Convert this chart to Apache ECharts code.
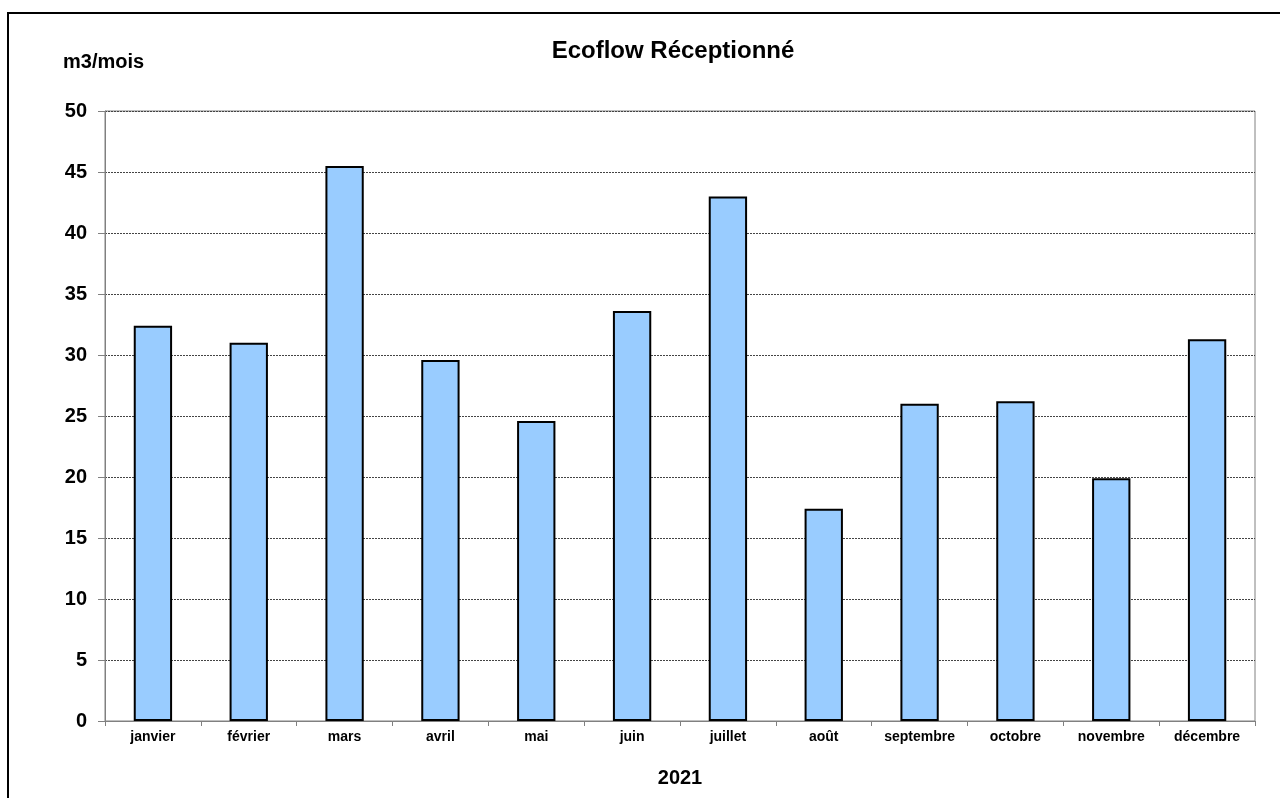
<!DOCTYPE html>
<html>
<head>
<meta charset="utf-8">
<script src="https://cdn.jsdelivr.net/npm/echarts@6/dist/echarts.min.js"></script>
<style>
  html, body { margin: 0; padding: 0; background: #fff; }
  #chart { width: 1280px; height: 798px; }
</style>
</head>
<body>
<div id="chart"></div>
<script>
const months = ["janvier", "février", "mars", "avril", "mai", "juin", "juillet", "août", "septembre", "octobre", "novembre", "décembre"]
const volumes = [32.4, 31.0, 45.5, 29.6, 24.6, 33.6, 43.0, 17.4, 26.0, 26.2, 19.9, 31.3]
const yTicks = [0, 5, 10, 15, 20, 25, 30, 35, 40, 45, 50]

const font = "'Liberation Sans', Arial, sans-serif"
const myChart = echarts.init(document.getElementById("chart"))

let option = {
  backgroundColor: "#fff",
  animation: false,
  title: {
    text: "Ecoflow Réceptionné",
    left: 668,
    top: 34,
    textAlign: "center",
    textStyle: { fontFamily: font, fontSize: 24, fontWeight: "bold", color: "#000" },
  },
  graphic: [
    {
      type: "rect",
      shape: { x: 8, y: 13, width: 1400, height: 900 },
      style: { fill: "none", stroke: "#000", lineWidth: 2 },
      silent: true,
    },
    {
      type: "text",
      left: 63,
      top: 52,
      style: { text: "m3/mois", font: "bold 20px " + font, fill: "#000" },
      silent: true,
    },
  ],
  grid: {
    left: 105,
    right: 25,
    top: 111,
    bottom: 77,
    show: true,
    borderColor: "#808080",
    borderWidth: 1,
    containLabel: false,
  },
  xAxis: {
    type: "category",
    data: months,
    name: "2021",
    nameLocation: "middle",
    nameGap: 47,
    nameTextStyle: { fontFamily: font, fontSize: 20, fontWeight: "bold", color: "#000" },
    axisLine: { show: true, lineStyle: { color: "#808080", width: 1 } },
    axisTick: { show: true, length: 5, lineStyle: { color: "#808080" } },
    axisLabel: { fontFamily: font, fontSize: 14, fontWeight: "bold", color: "#000", margin: 9, interval: 0 },
    splitLine: { show: false },
  },
  yAxis: {
    type: "value",
    min: yTicks[0],
    max: yTicks[yTicks.length - 1],
    interval: 5,
    axisLine: { show: true, lineStyle: { color: "#808080", width: 1 } },
    axisTick: { show: true, length: 7, lineStyle: { color: "#808080" } },
    axisLabel: { fontFamily: font, fontSize: 20, fontWeight: "bold", color: "#000", margin: 18 },
    splitLine: { show: true, lineStyle: { color: "#444", width: 1, type: [2, 1] } },
  },
  series: [
    {
      type: "bar",
      data: volumes,
      barWidth: "40%",
      itemStyle: { color: "#99CCFF", borderColor: "#000", borderWidth: 2 },
    },
  ],
}
myChart.setOption(option)
</script>
</body>
</html>
